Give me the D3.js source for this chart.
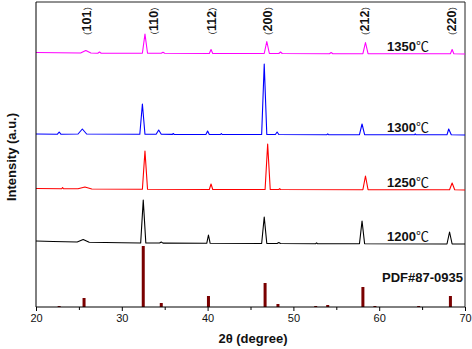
<!DOCTYPE html>
<html>
<head>
<meta charset="utf-8">
<script src="https://cdn.jsdelivr.net/npm/d3@7"></script>
<style>
  body { margin: 0; background: #fff; }
  text { font-family: "Liberation Sans", Arial, sans-serif; }
</style>
</head>
<body>
<div id="xrdChart"></div>
<script>
// XRD patterns at four sintering temperatures plus the reference card

// spectra: [2theta, intensity above own baseline]
const scan1350 = [
  [20, 1.5], [25.2, 1], [25.8, 3.5], [26.4, 1], [27.2, 0.8], [27.4, 2], [27.6, 0.8],
  [32.4, 0.8], [32.7, 20], [33.0, 0.8], [34.6, 0.8], [34.8, 1.8], [35.0, 0.8],
  [40.2, 0.5], [40.4, 4.5], [40.6, 0.5], [46.6, 0.5], [46.9, 12.5], [47.2, 0.5],
  [48.3, 0.5], [48.5, 2], [48.7, 0.5], [54.2, 0.3], [54.4, 1.5], [54.6, 0.3],
  [58.1, 0.3], [58.4, 11.5], [58.7, 0.3], [68.3, 0.2], [68.5, 4.5], [68.7, 0.2], [70, 0]
];
const scan1300 = [
  [20, 1], [22.5, 0.8], [22.7, 3], [22.9, 0.8], [24.9, 1], [25.4, 6], [25.9, 1],
  [32.1, 0.8], [32.4, 31], [32.7, 0.8], [34.0, 0.8], [34.3, 5], [34.6, 0.8],
  [35.9, 0.6], [36.0, 1.5], [36.1, 0.6], [39.8, 0.5], [40.0, 4], [40.2, 0.5],
  [41.5, 0.5], [41.6, 1.5], [41.7, 0.5], [46.3, 0.5], [46.6, 71], [46.9, 0.5],
  [47.9, 0.5], [48.1, 3], [48.3, 0.5], [53.9, 0.3], [54.0, 1.2], [54.1, 0.3],
  [57.7, 0.3], [58.0, 11], [58.3, 0.3], [64.1, 0.2], [64.2, 1.2], [64.3, 0.2],
  [67.9, 0.2], [68.1, 6], [68.4, 0.2], [70, 0]
];
const scan1250 = [
  [20, 1.5], [23.0, 1.2], [23.1, 2.5], [23.2, 1.2], [24.9, 1.2], [25.7, 3], [26.5, 1],
  [32.4, 0.8], [32.7, 39], [33.0, 0.8], [40.2, 0.5], [40.4, 6], [40.6, 0.5],
  [46.7, 0.5], [47.0, 46], [47.3, 0.5], [48.3, 0.5], [48.4, 1.3], [48.5, 0.5],
  [58.1, 0.3], [58.4, 14], [58.7, 0.3], [68.2, 0.2], [68.5, 7], [68.8, 0.2], [70, 0]
];
const scan1200 = [
  [20, 3], [22, 2.5], [24.8, 2], [25.5, 4.5], [26.2, 1.8], [30, 1.2],
  [32.2, 1], [32.5, 44], [32.8, 1], [34.4, 1], [34.6, 2], [34.8, 0.9],
  [39.9, 0.7], [40.1, 9], [40.3, 0.7], [46.3, 0.5], [46.6, 27], [46.9, 0.5],
  [48.1, 0.5], [48.3, 1.5], [48.5, 0.5], [52.6, 0.3], [52.7, 1.2], [52.8, 0.3],
  [57.7, 0.2], [58.0, 23], [58.3, 0.2], [67.9, 0], [68.2, 12], [68.5, 0], [70, 0]
];

const scans = [scan1350, scan1300, scan1250, scan1200];
const scanLabels = ['1350', '1300', '1250', '1200'];
const scanOffsets = [253, 172, 117, 63];
const scanColors = ['#ff00ff', '#0000ff', '#ff0000', '#000000'];

// PDF#87-0935 stick pattern
const pdfLabel = 'PDF#87-0935';
const pdfPeaks = [
  [22.7, 1], [25.6, 9], [32.5, 61], [34.6, 4], [40.1, 11], [46.7, 24], [48.2, 3],
  [52.6, 1], [54.0, 2], [58.1, 20], [59.5, 1], [64.6, 1], [68.3, 11]
];

// Miller indices across the top
const hklLabels = ['101', '110', '112', '200', '212', '220'];
const hklPositions = [25.83, 33.67, 40.4, 46.96, 58.34, 68.45];

const xTicks = [20, 30, 40, 50, 60, 70];
const xMinorTicks = [25, 35, 45, 55, 65];

function drawChart() {
    const width = 472;
    const height = 349;
    const left = 36, right = 465, top = 2, bottom = 307;

    const svg = d3.select('#xrdChart')
        .append('svg')
        .attr('width', width)
        .attr('height', height);

    const x = d3.scaleLinear().domain([20, 70]).range([left, right]);
    const y = d3.scaleLinear().domain([0, 305]).range([bottom, top]);

    // frame top / right
    svg.append('path')
        .attr('d', 'M' + left + ',' + top + 'H' + right + 'V' + bottom)
        .attr('fill', 'none')
        .attr('stroke', '#222')
        .attr('stroke-width', 1);

    // reference sticks
    svg.selectAll('.stick')
        .data(pdfPeaks)
        .enter()
        .append('rect')
        .attr('class', 'stick')
        .attr('x', function(d) { return x(d[0]) - 1.5; })
        .attr('y', function(d) { return y(d[1]); })
        .attr('width', 3)
        .attr('height', function(d) { return y(0) - y(d[1]); })
        .attr('fill', '#7a0000');

    // spectra
    scans.forEach(function(scan, i) {
        const line = d3.line()
            .x(function(d) { return x(d[0]); })
            .y(function(d) { return y(d[1] + scanOffsets[i]); });

        svg.append('path')
            .datum(scan)
            .attr('d', line)
            .attr('fill', 'none')
            .attr('stroke', scanColors[i])
            .attr('stroke-width', 1.1)
            .attr('stroke-linejoin', 'round');

        const t = svg.append('text')
            .attr('x', 387)
            .attr('y', y(scanOffsets[i]) - 3)
            .attr('font-size', '13px')
            .attr('font-weight', 'bold')
            .attr('fill', '#111');
        t.append('tspan').text(scanLabels[i]);
        t.append('tspan')
            .attr('font-weight', 'normal')
            .attr('font-family', '"Noto Sans CJK SC", sans-serif')
            .attr('font-size', '13px')
            .text('℃');
    });

    svg.append('text')
        .attr('x', 463)
        .attr('y', y(0) - 25)
        .attr('text-anchor', 'end')
        .attr('font-size', '13px')
        .attr('font-weight', 'bold')
        .attr('fill', '#111')
        .text(pdfLabel);

    // hkl labels, rotated
    hklLabels.forEach(function(lab, i) {
        const t = svg.append('text')
            .attr('transform', 'translate(' + (x(hklPositions[i]) + 4.5) + ',21) rotate(-90)')
            .attr('text-anchor', 'middle')
            .attr('font-size', '12.5px')
            .attr('font-weight', 'bold')
            .attr('fill', '#111');
        t.append('tspan')
            .attr('font-family', '"Noto Sans CJK SC", sans-serif')
            .attr('font-weight', 'normal')
            .attr('font-size', '9px')
            .text('（');
        t.append('tspan').text(lab);
        t.append('tspan')
            .attr('font-family', '"Noto Sans CJK SC", sans-serif')
            .attr('font-weight', 'normal')
            .attr('font-size', '9px')
            .text('）');
    });

    // x axis
    const xAxis = svg.append('g')
        .attr('transform', 'translate(0,' + bottom + ')')
        .call(d3.axisBottom(x).tickValues(xTicks).tickSize(4).tickPadding(3).tickFormat(d3.format('d')));
    xAxis.select('.domain').attr('stroke', '#000').attr('d', 'M' + left + ',0H' + right);
    xAxis.selectAll('text')
        .attr('font-size', '11px')
        .attr('font-family', '"Liberation Sans", Arial, sans-serif')
        .attr('fill', '#111');

    svg.append('g')
        .attr('transform', 'translate(0,' + bottom + ')')
        .call(d3.axisBottom(x).tickValues(xMinorTicks).tickSize(3).tickFormat(''))
        .select('.domain').remove();

    // y axis line only
    svg.append('line')
        .attr('x1', left).attr('x2', left)
        .attr('y1', top).attr('y2', bottom)
        .attr('stroke', '#000');

    // axis titles
    svg.append('text')
        .attr('x', 253)
        .attr('y', 343)
        .attr('text-anchor', 'middle')
        .attr('font-size', '13px')
        .attr('font-weight', 'bold')
        .attr('fill', '#111')
        .text('2θ (degree)');

    svg.append('text')
        .attr('transform', 'translate(16,157) rotate(-90)')
        .attr('text-anchor', 'middle')
        .attr('font-size', '13px')
        .attr('font-weight', 'bold')
        .attr('fill', '#111')
        .text('Intensity (a.u.)');
}

drawChart();
</script>
</body>
</html>
